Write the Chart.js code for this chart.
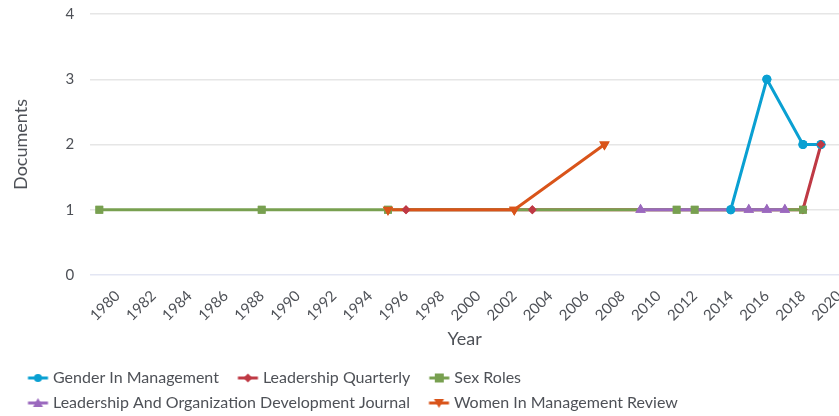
<!DOCTYPE html>
<html>
<head>
<meta charset="utf-8">
<script src="https://cdn.jsdelivr.net/npm/chart.js@4.4.1/dist/chart.umd.min.js"></script>
<style>
  html, body { margin: 0; padding: 0; background: #fff; }
  #wrap { width: 839px; height: 416px; position: relative; }
</style>
</head>
<body>
<div id="wrap"><canvas id="docsChart"></canvas></div>
<script>
// Dados (ano -> documentos)
const xTickYears = [1980, 1982, 1984, 1986, 1988, 1990, 1992, 1994, 1996, 1998, 2000,
                    2002, 2004, 2006, 2008, 2010, 2012, 2014, 2016, 2018, 2020];
const yTickValues = [0, 1, 2, 3, 4];

const seriesNames = ["Gender In Management", "Leadership Quarterly", "Sex Roles",
                     "Leadership And Organization Development Journal", "Women In Management Review"];

const genderYears = [2014, 2016, 2018, 2019];
const genderDocs  = [1, 3, 2, 2];

const quarterlyYears = [1996, 2003, 2018, 2019];
const quarterlyDocs  = [1, 1, 1, 2];

const sexRolesYears = [1979, 1988, 1995, 2011, 2012, 2018];
const sexRolesDocs  = [1, 1, 1, 1, 1, 1];

const lodjYears = [2009, 2015, 2016, 2017];
const lodjDocs  = [1, 1, 1, 1];

const womenYears = [1995, 2002, 2007];
const womenDocs  = [1, 1, 2];

const seriesColors = ["#0aa0d2", "#bf3944", "#78a050", "#9b69be", "#d9541a"];
const seriesMarkers = [
  { style: "circle", radius: 4.5, rotation: 0 },
  { style: "rectRot", radius: 4.5, rotation: 0 },
  { style: "rect", radius: 5.5, rotation: 0 },
  { style: "triangle", radius: 6, rotation: 0 },
  { style: "triangle", radius: 6, rotation: 180 }
];

const toPoints = (xs, ys) => xs.map((x, i) => ({ x: x, y: ys[i] }));
const allYears = [genderYears, quarterlyYears, sexRolesYears, lodjYears, womenYears];
const allDocs  = [genderDocs, quarterlyDocs, sexRolesDocs, lodjDocs, womenDocs];

// Ícones da legenda: linha + marcador (com espaço à esquerda para afastar os itens)
function legendIcon(color, marker) {
  const c = document.createElement("canvas");
  c.width = 40; c.height = 14;
  const g = c.getContext("2d");
  const x0 = 16.5, x1 = 36.5, cx = 26.5;
  g.strokeStyle = color;
  g.lineWidth = 3;
  g.beginPath(); g.moveTo(x0, 7); g.lineTo(x1, 7); g.stroke();
  g.fillStyle = color;
  g.save();
  g.translate(cx, 7);
  g.rotate(marker.rotation * Math.PI / 180);
  const r = 5;
  g.beginPath();
  if (marker.style === "circle") {
    g.arc(0, 0, 4, 0, Math.PI * 2);
  } else if (marker.style === "rectRot") {
    g.moveTo(0, -4.5); g.lineTo(4.5, 0); g.lineTo(0, 4.5); g.lineTo(-4.5, 0);
  } else if (marker.style === "rect") {
    g.rect(-4.5, -4.5, 9, 9);
  } else {
    g.moveTo(0, -r); g.lineTo(r, r * 0.8); g.lineTo(-r, r * 0.8);
  }
  g.closePath(); g.fill();
  g.restore();
  return c;
}

const datasets = seriesNames.map((name, i) => ({
  label: name,
  data: toPoints(allYears[i], allDocs[i]),
  borderColor: seriesColors[i],
  backgroundColor: seriesColors[i],
  borderWidth: 3,
  pointStyle: seriesMarkers[i].style,
  pointRadius: seriesMarkers[i].radius,
  pointRotation: seriesMarkers[i].rotation,
  pointBorderWidth: 0,
  pointHoverRadius: seriesMarkers[i].radius,
  tension: 0,
  order: seriesNames.length - i  // séries seguintes ficam por cima
}));

// Marcadores por cima de todas as linhas (estilo Highcharts)
const markersOnTop = {
  id: "markersOnTop",
  afterDatasetsDraw(chart) {
    const ctx = chart.ctx;
    ctx.save();
    chart.data.datasets.forEach((ds, i) => {
      const meta = chart.getDatasetMeta(i);
      meta.data.forEach(p => p.draw(ctx, chart.chartArea));
    });
    ctx.restore();
  }
};

// Ajuste fino da posição da legenda
const legendShift = {
  id: "legendShift",
  afterLayout(chart) {
    const lg = chart.legend;
    lg.left -= 1; lg.right -= 1;
    lg.top += 5; lg.bottom += 5;
  }
};

const textColor = "#4e5157";
const fontFamily = "Lato, 'Open Sans', sans-serif";

new Chart(document.getElementById("docsChart"), {
  type: "line",
  data: { datasets: datasets },
  plugins: [markersOnTop, legendShift],
  options: {
    responsive: true,
    maintainAspectRatio: false,
    animation: false,
    layout: { autoPadding: false, padding: { left: 10, right: 0, top: 14, bottom: 0 } },
    plugins: {
      tooltip: { enabled: false },
      legend: {
        position: "bottom",
        align: "start",
        labels: {
          usePointStyle: true,
          pointStyleWidth: 27,
          padding: 9,
          color: textColor,
          font: { family: fontFamily, size: 16 },
          sort: (a, b) => a.datasetIndex - b.datasetIndex,
          generateLabels(chart) {
            return chart.data.datasets.map((ds, i) => ({
              text: ds.label,
              fillStyle: ds.borderColor,
              strokeStyle: ds.borderColor,
              fontColor: textColor,
              lineWidth: 0,
              pointStyle: legendIcon(seriesColors[i], seriesMarkers[i]),
              datasetIndex: i,
              hidden: false
            }));
          }
        }
      }
    },
    scales: {
      x: {
        type: "linear",
        min: 1978.5,
        max: 2020,
        afterBuildTicks: scale => { scale.ticks = xTickYears.map(v => ({ value: v })); },
        afterFit: scale => { scale.height = 81; scale.paddingRight = 0; scale.paddingLeft = 0; },
        grid: { display: false },
        border: { display: false },
        ticks: {
          minRotation: 45,
          maxRotation: 45,
          autoSkip: false,
          padding: 4,
          color: textColor,
          font: { family: fontFamily, size: 15 },
          callback: v => String(v)
        },
        title: {
          display: true,
          text: "Year",
          color: textColor,
          font: { family: fontFamily, size: 18 },
          padding: { top: 0, bottom: 6 }
        }
      },
      y: {
        min: 0,
        max: 4,
        afterBuildTicks: scale => { scale.ticks = yTickValues.map(v => ({ value: v })); },
        afterFit: scale => { scale.paddingTop = 0; scale.paddingBottom = 0; },
        grid: {
          color: ctx => ctx.tick && ctx.tick.value === 0 ? "#e3e6f3" : "#e6e6e6",
          lineWidth: 1.5,
          drawTicks: false
        },
        border: { display: false },
        ticks: {
          padding: 16,
          color: textColor,
          font: { family: fontFamily, size: 15 }
        },
        title: {
          display: true,
          text: "Documents",
          color: textColor,
          font: { family: fontFamily, size: 18 },
          padding: { top: 0, bottom: 18 }
        }
      }
    }
  }
});
</script>
</body>
</html>
